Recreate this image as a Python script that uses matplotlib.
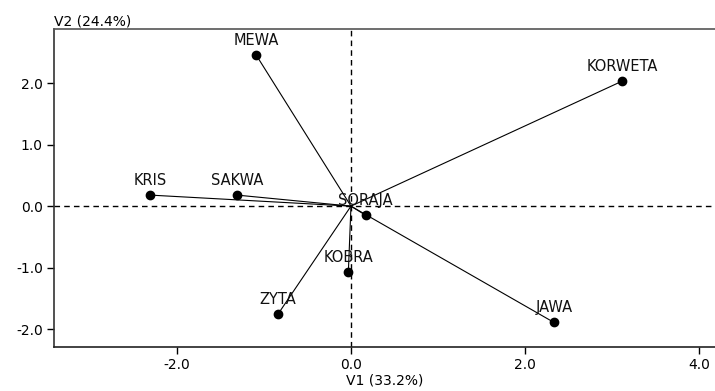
import matplotlib.pyplot as plt

# biplot coordinates
names = ['MEWA', 'KORWETA', 'KRIS', 'SAKWA', 'SORAJA', 'KOBRA', 'ZYTA', 'JAWA']
v1 = [-1.09, 3.11, -2.31, -1.31, 0.17, -0.03, -0.84, 2.33]
v2 = [2.46, 2.03, 0.18, 0.18, -0.15, -1.07, -1.76, -1.89]
xticks = [-2.0, 0.0, 2.0, 4.0]
yticks = [-2.0, -1.0, 0.0, 1.0, 2.0]

plt.rcParams['font.family'] = ['DejaVu Sans']
fig = plt.figure(figsize=(7.15, 3.91), dpi=100)
ax = fig.add_axes([54 / 715, 1 - 347 / 391, 1 - 54 / 715, (347 - 29) / 391])

ax.axhline(0, color='black', lw=1, ls=(0, (4, 3)), zorder=1)
ax.axvline(0, color='black', lw=1, ls=(0, (4, 3)), zorder=1)

for n, x, y in zip(names, v1, v2):
    ax.plot([0, x], [0, y], color='black', lw=0.8, zorder=2)
    ax.plot(x, y, 'o', color='black', markersize=6, zorder=3)
    ax.annotate(n, (x, y), xytext=(0, 5), textcoords='offset points',
                ha='center', va='bottom', fontsize=10.5, color='#111111')

ax.set_xlim(-3.41, 4.18)
ax.set_ylim(-2.29, 2.88)
ax.set_xticks(xticks)
ax.set_yticks(yticks)
ax.set_xticklabels(['%.1f' % t for t in xticks])
ax.set_yticklabels(['%.1f' % t for t in yticks])
ax.tick_params(direction='out', length=5, width=1, labelsize=10, pad=3)

ax.spines['right'].set_visible(False)
ax.spines['top'].set_color('#555555')
ax.spines['left'].set_color('#333333')
ax.spines['bottom'].set_color('#222222')
for s in ax.spines.values():
    s.set_linewidth(1.2)

ax.set_xlabel('V1 (33.2%)', fontsize=10, labelpad=1)
ax.text(0, 1.003, 'V2 (24.4%)', transform=ax.transAxes, ha='left', va='bottom', fontsize=10)

fig.savefig('out.png', dpi=100)
